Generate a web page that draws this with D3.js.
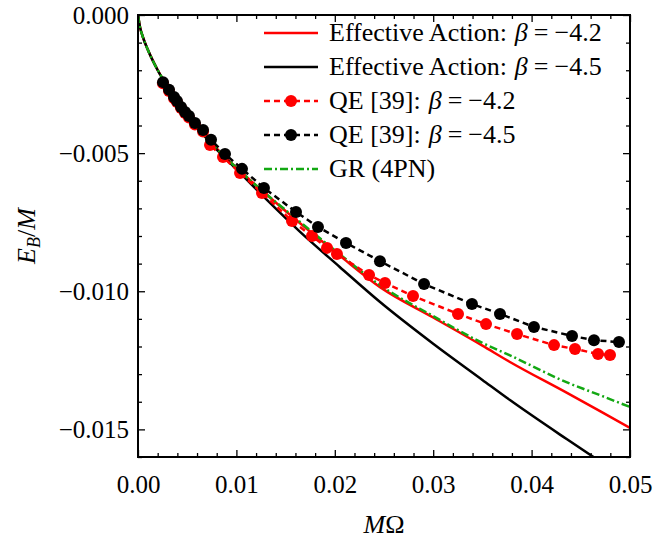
<!DOCTYPE html>
<html>
<head>
<meta charset="utf-8">
<script src="https://cdn.jsdelivr.net/npm/d3@7"></script>
<style>
  body { margin: 0; background: white; }
  svg { font-family: "Liberation Serif", "DejaVu Serif", serif; }
</style>
</head>
<body>
<svg id="chart" width="655" height="540"></svg>
<script>
// curve samples (M*Omega) shared by the effective action and GR curves
var omegaCurve = [0, 0.0002, 0.0005, 0.001, 0.002, 0.003, 0.004, 0.005, 0.0075, 0.01,
                  0.013, 0.0165, 0.0205, 0.0246, 0.03, 0.035, 0.0378, 0.0436, 0.047, 0.05];
var eaRed   = [0, -0.00043, -0.0008, -0.00126, -0.00199, -0.00259, -0.00312, -0.0036, -0.00465, -0.00553,
               -0.00648, -0.00755, -0.00871, -0.00985, -0.01095, -0.01197, -0.01256, -0.01368, -0.01435, -0.01495];
var eaBlack = [0, -0.00043, -0.0008, -0.00126, -0.002, -0.0026, -0.00314, -0.00363, -0.00468, -0.00558,
               -0.00666, -0.00786, -0.00912, -0.01039, -0.0119, -0.01321, -0.01394, -0.01536, -0.01617, null];
var grLine  = [0, -0.00043, -0.0008, -0.00126, -0.00199, -0.00258, -0.00311, -0.00358, -0.00465, -0.00553,
               -0.00647, -0.0075, -0.00866, -0.00978, -0.0109, -0.01187, -0.01232, -0.0133, -0.01377, -0.01419];

// QE [39] points
var qeRedOmega = [0.00254, 0.00315, 0.00366, 0.00396, 0.00437, 0.00478, 0.00518, 0.00579, 0.00661,
                  0.00732, 0.00864, 0.01037, 0.0126, 0.01565, 0.01768, 0.01921, 0.02022, 0.02348, 0.0251,
                  0.02795, 0.03252, 0.03537, 0.03852, 0.04228, 0.04441, 0.04675, 0.04797];
var qeRedE = [-0.00247, -0.00275, -0.00301, -0.00315, -0.00337, -0.00355, -0.00371, -0.00396, -0.00422,
              -0.00471, -0.00514, -0.00572, -0.00644, -0.00746, -0.008, -0.00843, -0.00865, -0.00941, -0.0097,
              -0.01017, -0.01082, -0.01119, -0.01155, -0.01195, -0.01209, -0.01227, -0.01231];
var qeBlackOmega = [0.00254, 0.00315, 0.00366, 0.00396, 0.00437, 0.00478, 0.00518, 0.00579, 0.00661, 0.00742,
                    0.00884, 0.01057, 0.0128, 0.01606, 0.01829, 0.02114, 0.02459, 0.02907, 0.03394, 0.03679,
                    0.04024, 0.04411, 0.04634, 0.04888];
var qeBlackE = [-0.00243, -0.00271, -0.00297, -0.00311, -0.00333, -0.00351, -0.00366, -0.00391, -0.00416, -0.00452,
                -0.00503, -0.00557, -0.00626, -0.00713, -0.00767, -0.00825, -0.00891, -0.00974, -0.01046, -0.01082,
                -0.01129, -0.01162, -0.01177, -0.01184];

var xMajor = [0, 0.01, 0.02, 0.03, 0.04, 0.05];
var yMajor = [0, -0.005, -0.01, -0.015];
var legendLabels = ["Effective Action:", "Effective Action:", "QE [39]:", "QE [39]:", "GR (4PN)"];
var legendBeta = ["\u22124.2", "\u22124.5", "\u22124.2", "\u22124.5", null];

(function() {
var RED = "#ff0000", GREEN = "#13a813";

var svg = d3.select("#chart");
var pL = 138, pR = 630, pT = 15, pB = 457;

var x = d3.scaleLinear().domain([0, 0.05]).range([pL, pR]);
var y = d3.scaleLinear().domain([-0.016, 0]).range([pB, pT]);

svg.append("defs").append("clipPath").attr("id", "clip")
  .append("rect").attr("x", pL).attr("y", pT).attr("width", pR - pL).attr("height", pB - pT);

var plot = svg.append("g").attr("clip-path", "url(#clip)");

function curve(vals) {
  return omegaCurve.map(function(w, i) { return [w, vals[i]]; });
}
var line = d3.line()
  .defined(function(d) { return d[1] != null; })
  .x(function(d) { return x(d[0]); })
  .y(function(d) { return y(d[1]); })
  .curve(d3.curveMonotoneX);

plot.append("path").attr("d", line(curve(eaRed)))
  .attr("fill", "none").attr("stroke", RED).attr("stroke-width", 2.5);
plot.append("path").attr("d", line(curve(eaBlack)))
  .attr("fill", "none").attr("stroke", "black").attr("stroke-width", 2.5);
plot.append("path").attr("d", line(curve(grLine)))
  .attr("fill", "none").attr("stroke", GREEN).attr("stroke-width", 2.5)
  .attr("stroke-dasharray", "8,3,2,3");

function qe(ws, es, col) {
  var pts = ws.map(function(w, i) { return [w, es[i]]; });
  plot.append("path").attr("d", d3.line().x(function(d) { return x(d[0]); }).y(function(d) { return y(d[1]); })(pts))
    .attr("fill", "none").attr("stroke", col).attr("stroke-width", 2.5).attr("stroke-dasharray", "6,4");
  plot.selectAll(null).data(pts).enter().append("circle")
    .attr("cx", function(d) { return x(d[0]); })
    .attr("cy", function(d) { return y(d[1]); })
    .attr("r", 6).attr("fill", col);
}
qe(qeRedOmega, qeRedE, RED);
qe(qeBlackOmega, qeBlackE, "black");

// axes, ticks inward on all four sides
var xMinor = d3.range(0, 0.0501, 0.002).filter(function(v) { return Math.abs(v * 100 - Math.round(v * 100)) > 1e-6; });
var yMinor = d3.range(0, -0.0161, -0.001).filter(function(v) { return Math.abs(v * 200 - Math.round(v * 200)) > 1e-6; });

function styleAxis(g) {
  g.select(".domain").remove();
  g.selectAll("line").attr("stroke", "black").attr("stroke-width", 1.3);
  g.selectAll("text").attr("font-size", 25).attr("font-family", "Liberation Serif").attr("fill", "black");
}
svg.append("g").attr("transform", "translate(0," + pB + ")")
  .call(d3.axisBottom(x).tickValues(xMajor).tickSize(-7).tickPadding(18).tickFormat(d3.format(".2f"))).call(styleAxis);
svg.append("g").attr("transform", "translate(0," + pB + ")")
  .call(d3.axisBottom(x).tickValues(xMinor).tickSize(-4).tickFormat("")).call(styleAxis);
svg.append("g").attr("transform", "translate(0," + pT + ")")
  .call(d3.axisTop(x).tickValues(xMajor).tickSize(-7).tickFormat("")).call(styleAxis);
svg.append("g").attr("transform", "translate(0," + pT + ")")
  .call(d3.axisTop(x).tickValues(xMinor).tickSize(-4).tickFormat("")).call(styleAxis);
svg.append("g").attr("transform", "translate(" + pL + ",0)")
  .call(d3.axisLeft(y).tickValues(yMajor).tickSize(-7).tickPadding(9).tickFormat(d3.format(".3f"))).call(styleAxis);
svg.append("g").attr("transform", "translate(" + pL + ",0)")
  .call(d3.axisLeft(y).tickValues(yMinor).tickSize(-4).tickFormat("")).call(styleAxis);
svg.append("g").attr("transform", "translate(" + pR + ",0)")
  .call(d3.axisRight(y).tickValues(yMajor).tickSize(-7).tickFormat("")).call(styleAxis);
svg.append("g").attr("transform", "translate(" + pR + ",0)")
  .call(d3.axisRight(y).tickValues(yMinor).tickSize(-4).tickFormat("")).call(styleAxis);

svg.append("rect").attr("x", pL).attr("y", pT).attr("width", pR - pL).attr("height", pB - pT)
  .attr("fill", "none").attr("stroke", "black").attr("stroke-width", 2);

// axis titles
var xt = svg.append("text").attr("x", (pL + pR) / 2).attr("y", 533)
  .attr("text-anchor", "middle").attr("font-size", 26);
xt.append("tspan").attr("font-style", "italic").text("M");
xt.append("tspan").text("\u03A9");

var yt = svg.append("text").attr("transform", "translate(35," + ((pT + pB) / 2) + ") rotate(-90)")
  .attr("text-anchor", "middle").attr("font-size", 26);
yt.append("tspan").attr("font-style", "italic").text("E");
yt.append("tspan").attr("font-style", "italic").attr("font-size", 18).attr("dy", 5).text("B");
yt.append("tspan").attr("dy", -5).text("/");
yt.append("tspan").attr("font-style", "italic").text("M");

// legend
var legendColors = [RED, "black", RED, "black", GREEN];
var legendDash = [null, null, "6,4", "6,4", "8,3,2,3"];
legendLabels.forEach(function(lab, i) {
  var ly = 33 + i * 34;
  var g = svg.append("g");
  g.append("line").attr("x1", 264).attr("x2", 318).attr("y1", ly).attr("y2", ly)
    .attr("stroke", legendColors[i]).attr("stroke-width", 2.5)
    .attr("stroke-dasharray", legendDash[i]);
  if (i === 2 || i === 3) {
    g.append("circle").attr("cx", 291).attr("cy", ly).attr("r", 6).attr("fill", legendColors[i]);
  }
  var t = g.append("text").attr("x", 329).attr("y", ly + 8).attr("font-size", 26);
  t.append("tspan").text(lab);
  if (legendBeta[i]) {
    t.append("tspan").attr("dx", 8).attr("font-style", "italic").text("\u03B2");
    t.append("tspan").attr("dx", 6).text("=");
    t.append("tspan").attr("dx", 6).text(legendBeta[i]);
  }
});
})();
</script>
</body>
</html>
